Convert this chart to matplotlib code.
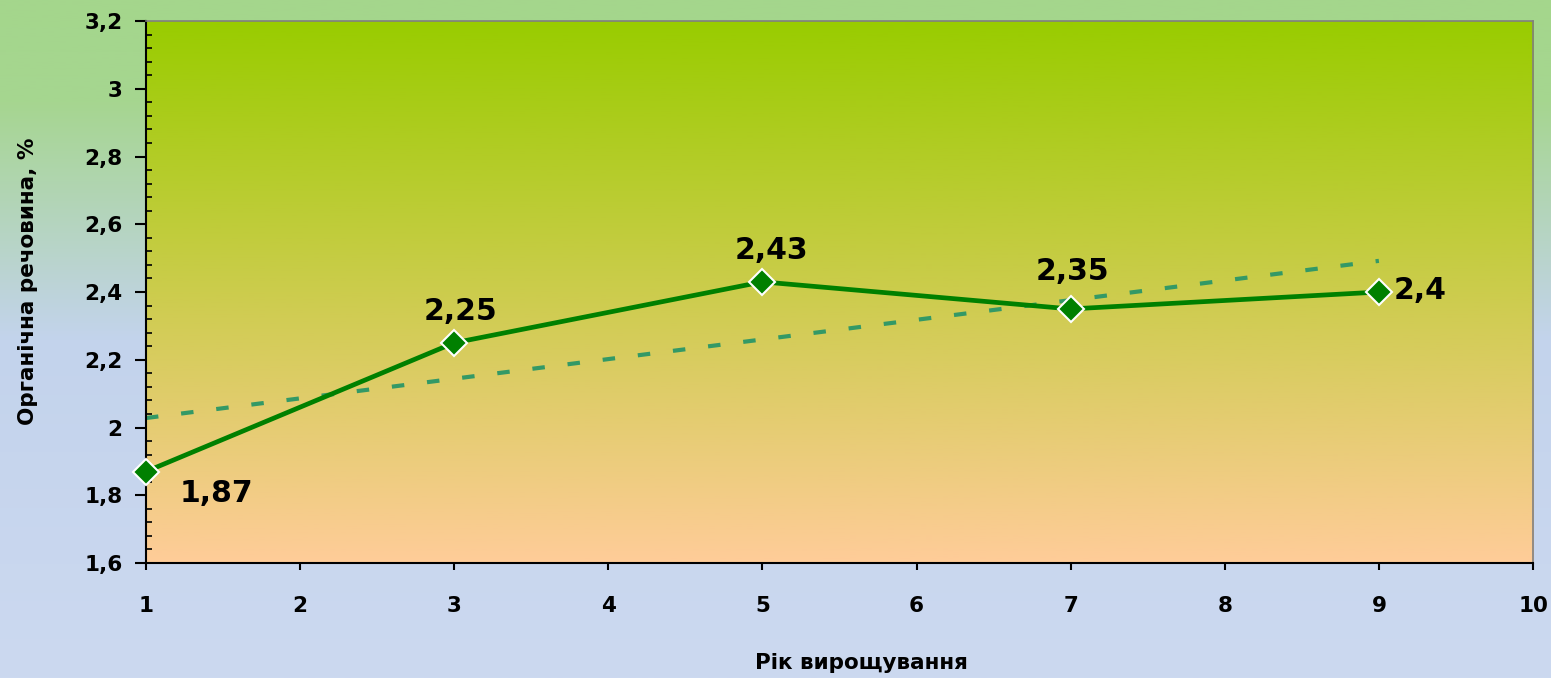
import numpy as np
import matplotlib.pyplot as plt
from matplotlib.colors import LinearSegmentedColormap
from matplotlib.ticker import MultipleLocator, FuncFormatter

plt.rcParams['font.family'] = ['DejaVu Sans']
plt.rcParams['font.weight'] = 'bold'

# Рік вирощування та вміст органічної речовини
years = [1, 3, 5, 7, 9]
humus = [1.87, 2.25, 2.43, 2.35, 2.4]
value_labels = ['1,87', '2,25', '2,43', '2,35', '2,4']
label_offsets = [(70, -22), (6, 31), (9, 31), (2, 37), (41, 2)]

fig = plt.figure(figsize=(15.51, 6.78), dpi=100)

# background of the whole figure: green on top fading to pale blue
bg = fig.add_axes([0, 0, 1, 1], zorder=-10)
bg_cmap = LinearSegmentedColormap.from_list(
    'bg', [(0.0, '#a4d68c'), (0.15, '#a6d690'), (0.5, '#c3d3ec'), (1.0, '#ccd9f0')])
bg.imshow(np.linspace(0, 1, 256).reshape(-1, 1), aspect='auto', cmap=bg_cmap,
          extent=[0, 1, 0, 1], transform=bg.transAxes)
bg.axis('off')

ax = fig.add_axes([0.0941, 0.1696, 0.8943, 0.7994])
ax.patch.set_alpha(0)
area_cmap = LinearSegmentedColormap.from_list('area', ['#99cc00', '#ffcc99'])
ax.imshow(np.linspace(0, 1, 256).reshape(-1, 1), aspect='auto', cmap=area_cmap,
          extent=[0, 1, 0, 1], transform=ax.transAxes, zorder=0)

# linear trend
k, b = np.polyfit(years, humus, 1)
tx = np.array([years[0], years[-1]])
ax.plot(tx, k * tx + b, color='#339966', lw=3, dashes=(3.0, 5.5),
        dash_capstyle='butt', zorder=2)

ax.plot(years, humus, color='#008000', lw=3.4, marker='D', ms=13,
        markerfacecolor='#008000', markeredgecolor='white', markeredgewidth=1.5,
        zorder=3, clip_on=False)

for x, y, t, (dx, dy) in zip(years, humus, value_labels, label_offsets):
    ax.annotate(t, (x, y), xytext=(dx, dy), textcoords='offset pixels',
                ha='center', va='center', fontsize=21.5, fontweight='bold', color='black')

ax.set_xlim(1, 10)
ax.set_ylim(1.6, 3.2)
ax.xaxis.set_major_locator(MultipleLocator(1))
ax.yaxis.set_major_locator(MultipleLocator(0.2))
ax.yaxis.set_minor_locator(MultipleLocator(0.04))
ax.yaxis.set_major_formatter(FuncFormatter(lambda v, p: ('%g' % round(v, 2)).replace('.', ',')))

ax.tick_params(axis='x', which='major', direction='out', length=5, width=1.5, pad=19, labelsize=15.5)
ax.tick_params(axis='y', which='major', direction='out', length=8, width=1.5, pad=9, labelsize=15.5)
ax.tick_params(axis='y', which='minor', direction='in', length=4, width=1.2)
for lab in ax.get_xticklabels() + ax.get_yticklabels():
    lab.set_fontweight('bold')

for s in ['left', 'bottom']:
    ax.spines[s].set_color('black')
    ax.spines[s].set_linewidth(1.5)
for s in ['top', 'right']:
    ax.spines[s].set_color('#808080')
    ax.spines[s].set_linewidth(1.2)

ax.set_xlabel('Рік вирощування', fontsize=15.5, fontweight='bold')
ax.set_ylabel('Органічна речовина, %', fontsize=15.5, fontweight='bold')
ax.xaxis.set_label_coords((861 - 146) / 1387, -(663 - 563) / 542)
ax.yaxis.set_label_coords(-(146 - 28) / 1387, (563 - 281) / 542)
ax.xaxis.label.set_va('center')
ax.yaxis.label.set_va('center')

fig.savefig('out.png', dpi=100)
